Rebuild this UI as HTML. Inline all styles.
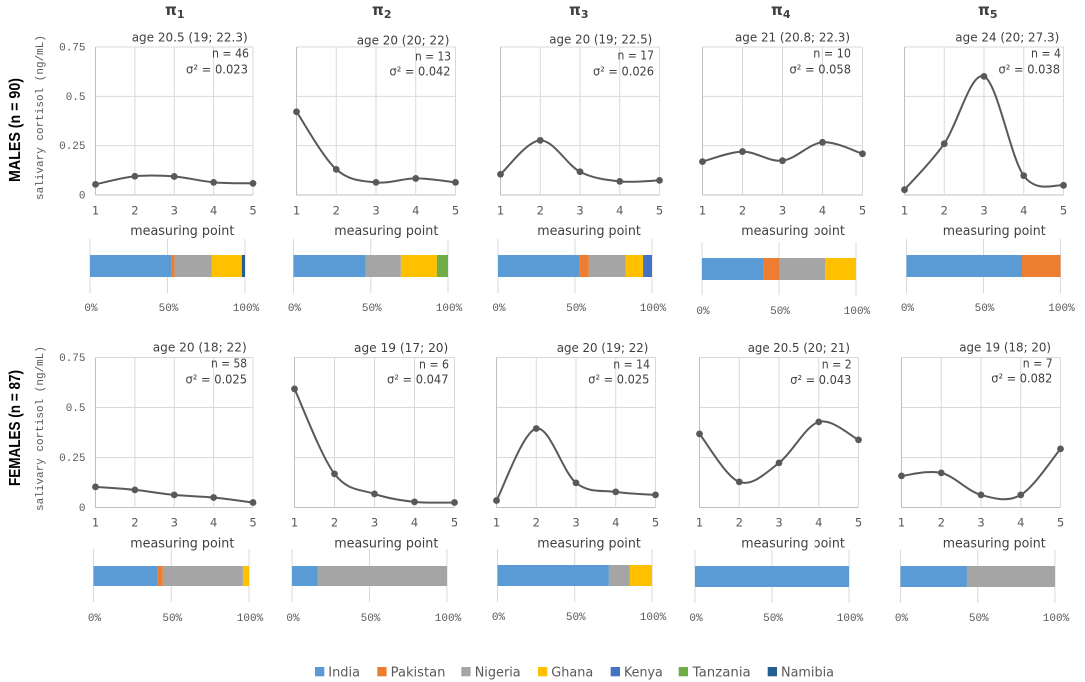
<!DOCTYPE html>
<html lang="en">
<head>
<meta charset="utf-8">
<title>Salivary cortisol by measuring point</title>
<style>
html,body{margin:0;padding:0;background:#fff;width:1085px;height:682px;overflow:hidden}
svg{display:block}
text{font-family:"DejaVu Sans","Liberation Sans",sans-serif;fill:#404040;font-size:13px}
.mono{font-family:"Liberation Mono",monospace;font-size:11px;fill:#595959}
.tick{font-size:11.5px;fill:#595959;text-anchor:middle}
.title{font-size:13px;fill:#404040}
.note{font-size:12.5px;fill:#404040}
.legend{font-size:13px;fill:#595959}
.pi{font-family:"DejaVu Sans",sans-serif;font-weight:bold;font-size:15px;fill:#404040}
.row{font-family:"Liberation Sans",sans-serif;font-weight:bold;font-size:16px;fill:#000}
</style>
</head>
<body>
<svg id="figure" xmlns="http://www.w3.org/2000/svg" width="1085" height="682" viewBox="0 0 1085 682">
<rect width="1085" height="682" fill="#fff"/>
<g id="marks"></g>

<g>
<text class="pi" x="165" y="15">π<tspan font-size="11" dy="3">1</tspan></text>
<text class="pi" x="372" y="15">π<tspan font-size="11" dy="3">2</tspan></text>
<text class="pi" x="569" y="15">π<tspan font-size="11" dy="3">3</tspan></text>
<text class="pi" x="771" y="15">π<tspan font-size="11" dy="3">4</tspan></text>
<text class="pi" x="978" y="15">π<tspan font-size="11" dy="3">5</tspan></text>
</g>

<text class="row" transform="translate(20,182) rotate(-90)" textLength="104" lengthAdjust="spacingAndGlyphs">MALES (n = 90)</text>
<text class="row" transform="translate(20,486) rotate(-90)" textLength="116" lengthAdjust="spacingAndGlyphs">FEMALES (n = 87)</text>
<text class="mono" transform="translate(43,200) rotate(-90)" textLength="165">salivary cortisol (ng/mL)</text>
<text class="mono" transform="translate(43,511) rotate(-90)" textLength="165">salivary cortisol (ng/mL)</text>

<g>
<text class="note" x="131.7" y="41.5" textLength="116" lengthAdjust="spacingAndGlyphs">age 20.5 (19; 22.3)</text>
<text class="note" x="212" y="57.5" textLength="37" lengthAdjust="spacingAndGlyphs">n = 46</text>
<text class="note" x="186" y="73.5" textLength="62" lengthAdjust="spacingAndGlyphs">σ² = 0.023</text>

<text class="note" x="356.7" y="44.5" textLength="92.7" lengthAdjust="spacingAndGlyphs">age 20 (20; 22)</text>
<text class="note" x="415" y="60.5" textLength="36" lengthAdjust="spacingAndGlyphs">n = 13</text>
<text class="note" x="389.5" y="75.5" textLength="61" lengthAdjust="spacingAndGlyphs">σ² = 0.042</text>

<text class="note" x="549.3" y="43.5" textLength="103" lengthAdjust="spacingAndGlyphs">age 20 (19; 22.5)</text>
<text class="note" x="617.5" y="59.5" textLength="36.5" lengthAdjust="spacingAndGlyphs">n = 17</text>
<text class="note" x="593" y="75.5" textLength="61" lengthAdjust="spacingAndGlyphs">σ² = 0.026</text>

<text class="note" x="735" y="41.5" textLength="115" lengthAdjust="spacingAndGlyphs">age 21 (20.8; 22.3)</text>
<text class="note" x="813.3" y="57.5" textLength="37.7" lengthAdjust="spacingAndGlyphs">n = 10</text>
<text class="note" x="789.5" y="73.5" textLength="61.5" lengthAdjust="spacingAndGlyphs">σ² = 0.058</text>

<text class="note" x="955.3" y="41.5" textLength="104" lengthAdjust="spacingAndGlyphs">age 24 (20; 27.3)</text>
<text class="note" x="1031" y="57.5" textLength="30" lengthAdjust="spacingAndGlyphs">n = 4</text>
<text class="note" x="998.5" y="73.5" textLength="61.5" lengthAdjust="spacingAndGlyphs">σ² = 0.038</text>

<text class="note" x="152.7" y="351.5" textLength="94" lengthAdjust="spacingAndGlyphs">age 20 (18; 22)</text>
<text class="note" x="211" y="367.5" textLength="36" lengthAdjust="spacingAndGlyphs">n = 58</text>
<text class="note" x="185.5" y="383.5" textLength="61.5" lengthAdjust="spacingAndGlyphs">σ² = 0.025</text>

<text class="note" x="354" y="352" textLength="94.3" lengthAdjust="spacingAndGlyphs">age 19 (17; 20)</text>
<text class="note" x="419" y="368.5" textLength="30" lengthAdjust="spacingAndGlyphs">n = 6</text>
<text class="note" x="387" y="383.5" textLength="61.5" lengthAdjust="spacingAndGlyphs">σ² = 0.047</text>

<text class="note" x="556.7" y="352" textLength="91.7" lengthAdjust="spacingAndGlyphs">age 20 (19; 22)</text>
<text class="note" x="613.3" y="368.5" textLength="36.7" lengthAdjust="spacingAndGlyphs">n = 14</text>
<text class="note" x="588.3" y="383.5" textLength="61" lengthAdjust="spacingAndGlyphs">σ² = 0.025</text>

<text class="note" x="747.7" y="352" textLength="102.3" lengthAdjust="spacingAndGlyphs">age 20.5 (20; 21)</text>
<text class="note" x="821.7" y="368.5" textLength="30" lengthAdjust="spacingAndGlyphs">n = 2</text>
<text class="note" x="790.3" y="384" textLength="61" lengthAdjust="spacingAndGlyphs">σ² = 0.043</text>

<text class="note" x="959.3" y="351.5" textLength="91.7" lengthAdjust="spacingAndGlyphs">age 19 (18; 20)</text>
<text class="note" x="1022.7" y="367.5" textLength="30" lengthAdjust="spacingAndGlyphs">n = 7</text>
<text class="note" x="991.3" y="382.5" textLength="61" lengthAdjust="spacingAndGlyphs">σ² = 0.082</text>
</g>

<g>
<text class="title" x="130.3" y="235" textLength="104" lengthAdjust="spacingAndGlyphs">measuring point</text>
<text class="title" x="334.3" y="235" textLength="104" lengthAdjust="spacingAndGlyphs">measuring point</text>
<text class="title" x="537.3" y="235" textLength="103.5" lengthAdjust="spacingAndGlyphs">measuring point</text>
<text class="title" x="741.3" y="235" textLength="103.5" lengthAdjust="spacingAndGlyphs">measuring point</text>
<text class="title" x="942.7" y="235" textLength="103" lengthAdjust="spacingAndGlyphs">measuring point</text>
<text class="title" x="130.3" y="547.5" textLength="104" lengthAdjust="spacingAndGlyphs">measuring point</text>
<text class="title" x="334.3" y="547.5" textLength="104" lengthAdjust="spacingAndGlyphs">measuring point</text>
<text class="title" x="537.3" y="547.5" textLength="103.5" lengthAdjust="spacingAndGlyphs">measuring point</text>
<text class="title" x="741.3" y="547.5" textLength="103.5" lengthAdjust="spacingAndGlyphs">measuring point</text>
<text class="title" x="942.7" y="547.5" textLength="103" lengthAdjust="spacingAndGlyphs">measuring point</text>
<rect x="813" y="224" width="1.8" height="15" fill="#fff"/>
<rect x="813" y="536" width="1.8" height="15" fill="#fff"/>
</g>

<g>
<g><rect x="315" y="667" width="9.3" height="9.3" fill="#5B9BD5"/><text class="legend" x="328.3" y="676.5" textLength="31.7" lengthAdjust="spacingAndGlyphs">India</text></g>
<g><rect x="377.3" y="667" width="9.3" height="9.3" fill="#ED7D31"/><text class="legend" x="390.7" y="676.5" textLength="54.7" lengthAdjust="spacingAndGlyphs">Pakistan</text></g>
<g><rect x="461.3" y="667" width="9.3" height="9.3" fill="#A5A5A5"/><text class="legend" x="474.7" y="676.5" textLength="46" lengthAdjust="spacingAndGlyphs">Nigeria</text></g>
<g><rect x="538" y="667" width="9.3" height="9.3" fill="#FFC000"/><text class="legend" x="551.3" y="676.5" textLength="42" lengthAdjust="spacingAndGlyphs">Ghana</text></g>
<g><rect x="610.7" y="667" width="9.3" height="9.3" fill="#4472C4"/><text class="legend" x="624" y="676.5" textLength="38.7" lengthAdjust="spacingAndGlyphs">Kenya</text></g>
<g><rect x="678.7" y="667" width="9.3" height="9.3" fill="#70AD47"/><text class="legend" x="692.7" y="676.5" textLength="58" lengthAdjust="spacingAndGlyphs">Tanzania</text></g>
<g><rect x="767.7" y="667" width="9.3" height="9.3" fill="#255E91"/><text class="legend" x="781" y="676.5" textLength="53" lengthAdjust="spacingAndGlyphs">Namibia</text></g>
</g>
</svg>

<script>
// ---- data ----
const measuringPoints = [1, 2, 3, 4, 5];
const yTickValues = [0, 0.25, 0.5, 0.75];
const yTickLabels = ['0', '0.25', '0.5', '0.75'];
const shareTickValues = [0, 50, 100];
const shareTickLabels = ['0%', '50%', '100%'];
const countries = ['India', 'Pakistan', 'Nigeria', 'Ghana', 'Kenya', 'Tanzania', 'Namibia'];

const cortisolM1 = [0.054, 0.095, 0.094, 0.064, 0.059];
const cortisolM2 = [0.422, 0.130, 0.064, 0.084, 0.064];
const cortisolM3 = [0.105, 0.277, 0.118, 0.069, 0.074];
const cortisolM4 = [0.169, 0.220, 0.174, 0.267, 0.209];
const cortisolM5 = [0.027, 0.260, 0.601, 0.098, 0.049];
const cortisolF1 = [0.103, 0.088, 0.063, 0.050, 0.025];
const cortisolF2 = [0.593, 0.168, 0.068, 0.028, 0.025];
const cortisolF3 = [0.035, 0.395, 0.123, 0.078, 0.063];
const cortisolF4 = [0.368, 0.128, 0.223, 0.428, 0.338];
const cortisolF5 = [0.158, 0.173, 0.063, 0.063, 0.293];

const sharesM1 = [52.3, 2.3, 24, 19.4, 0, 0, 2];
const sharesM2 = [46.8, 0, 22.7, 23.3, 0, 7.2, 0];
const sharesM3 = [53, 6, 24, 11.2, 5.8, 0, 0];
const sharesM4 = [40, 10.4, 29.5, 20.1, 0, 0, 0];
const sharesM5 = [75, 25, 0, 0, 0, 0, 0];
const sharesF1 = [41.2, 3.4, 51.5, 3.9, 0, 0, 0];
const sharesF2 = [16.7, 0, 83.3, 0, 0, 0, 0];
const sharesF3 = [72.1, 0, 13.6, 14.3, 0, 0, 0];
const sharesF4 = [100, 0, 0, 0, 0, 0, 0];
const sharesF5 = [43, 0, 57, 0, 0, 0, 0];

// ---- layout & style (not data) ----
const countryColors = ['#5B9BD5', '#ED7D31', '#A5A5A5', '#FFC000', '#4472C4', '#70AD47', '#255E91'];
const Y_MAX = 0.75;
const panels = [
  {id:'m1', series:cortisolM1, shares:sharesM1, l:95.5,  r:253,   t:47,  b:195, xl:214.5, sx0:90,    sx1:245,   st:255, sb:277, gt:239, gb:293, lb:311},
  {id:'m2', series:cortisolM2, shares:sharesM2, l:296.5, r:455.5, t:47,  b:195, xl:214.5, sx0:293.5, sx1:448,   st:255, sb:277, gt:239, gb:293, lb:311},
  {id:'m3', series:cortisolM3, shares:sharesM3, l:500.5, r:659.5, t:47,  b:195, xl:214.5, sx0:498,   sx1:652,   st:255, sb:277, gt:239, gb:293, lb:311},
  {id:'m4', series:cortisolM4, shares:sharesM4, l:702.5, r:862.5, t:47,  b:195, xl:214.5, sx0:702,   sx1:856,   st:258, sb:280, gt:242, gb:295, lb:314},
  {id:'m5', series:cortisolM5, shares:sharesM5, l:904.5, r:1063.5,t:47,  b:195, xl:214.5, sx0:906.5, sx1:1060.5,st:255, sb:277, gt:239, gb:293, lb:311},
  {id:'f1', series:cortisolF1, shares:sharesF1, l:95.5,  r:253,   t:357.5,b:507.5,xl:526.5,sx0:93.5, sx1:249,   st:566, sb:586, gt:549, gb:602, lb:621},
  {id:'f2', series:cortisolF2, shares:sharesF2, l:294.5, r:454.5, t:357.5,b:507.5,xl:526.5,sx0:292,  sx1:447,   st:566, sb:586, gt:549, gb:602, lb:621},
  {id:'f3', series:cortisolF3, shares:sharesF3, l:496.5, r:655.5, t:357.5,b:507.5,xl:526.5,sx0:497.5,sx1:652,   st:565, sb:586, gt:549, gb:602, lb:620},
  {id:'f4', series:cortisolF4, shares:sharesF4, l:699.5, r:858.5, t:357.5,b:507.5,xl:526.5,sx0:695,  sx1:849,   st:566, sb:587, gt:550, gb:603, lb:621},
  {id:'f5', series:cortisolF5, shares:sharesF5, l:901.5, r:1060.5,t:357.5,b:507.5,xl:526.5,sx0:900.5,sx1:1055,  st:566, sb:587, gt:550, gb:603, lb:621}
];

const NS = 'http://www.w3.org/2000/svg';
const root = document.getElementById('marks');

function make(tag, parent, attrs) {
  const node = document.createElementNS(NS, tag);
  for (const k in attrs) node.setAttribute(k, attrs[k]);
  parent.appendChild(node);
  return node;
}

// axis functions
function xScale(p, point) {
  const lo = measuringPoints[0], hi = measuringPoints[measuringPoints.length - 1];
  return p.l + (point - lo) / (hi - lo) * (p.r - p.l);
}
function yScale(p, v) {
  return p.b - v / Y_MAX * (p.b - p.t);
}
function shareScale(p, pct) {
  return p.sx0 + pct / 100 * (p.sx1 - p.sx0);
}

// Excel-style smoothed line: Catmull-Rom converted to cubic Beziers
function smoothPath(pts) {
  let d = 'M' + pts[0][0].toFixed(2) + ' ' + pts[0][1].toFixed(2);
  for (let i = 0; i < pts.length - 1; i++) {
    const p0 = pts[Math.max(i - 1, 0)], p1 = pts[i], p2 = pts[i + 1], p3 = pts[Math.min(i + 2, pts.length - 1)];
    const c1x = p1[0] + (p2[0] - p0[0]) / 6, c1y = p1[1] + (p2[1] - p0[1]) / 6;
    const c2x = p2[0] - (p3[0] - p1[0]) / 6, c2y = p2[1] - (p3[1] - p1[1]) / 6;
    d += 'C' + c1x.toFixed(2) + ' ' + c1y.toFixed(2) + ' ' + c2x.toFixed(2) + ' ' + c2y.toFixed(2) + ' ' + p2[0].toFixed(2) + ' ' + p2[1].toFixed(2);
  }
  return d;
}

panels.forEach(function (p) {
  let el;
  const group = make('g', root, {});
  
  

  // horizontal gridlines
  yTickValues.forEach(function (v) {
    const y = yScale(p, v);
    el = make('line', group, {x1: p.l, x2: p.r, y1: y, y2: y, stroke: v === 0 ? '#BFBFBF' : '#D9D9D9', 'stroke-width': 1});
    
    
  });

  // vertical gridlines and x tick labels
  measuringPoints.forEach(function (pt, i) {
    const x = xScale(p, pt);
    el = make('line', group, {x1: x, x2: x, y1: p.t, y2: p.b, stroke: i === 0 ? '#BFBFBF' : '#D9D9D9', 'stroke-width': 1});
    
    
    el = make('text', group, {x: x, y: p.xl, class: 'tick'});
    el.textContent = String(pt);
    
    
  });

  // y tick labels on the first column
  if (p.id === 'm1' || p.id === 'f1') {
    yTickValues.forEach(function (v, i) {
      el = make('text', group, {x: 85.5, y: yScale(p, v) + 3.5, class: 'mono', 'text-anchor': 'end'});
      el.textContent = yTickLabels[i];
      
      
    });
  }

  // cortisol line and markers
  const pts = p.series.map(function (v, i) { return [xScale(p, measuringPoints[i]), yScale(p, v)]; });
  el = make('path', group, {d: smoothPath(pts), fill: 'none', stroke: '#595959', 'stroke-width': 2, 'stroke-linecap': 'round'});
  
  
  pts.forEach(function (q) {
    el = make('circle', group, {cx: q[0], cy: q[1], r: 3.4, fill: '#595959'});
    
    
  });

  // stacked share bar: gridlines, labels, segments
  shareTickValues.forEach(function (t, i) {
    const x = shareScale(p, t);
    el = make('line', group, {x1: x, x2: x, y1: p.gt, y2: p.gb, stroke: '#D9D9D9', 'stroke-width': 1});
    
    
    el = make('text', group, {x: x + 1, y: p.lb, class: 'mono', 'text-anchor': 'middle'});
    el.textContent = shareTickLabels[i];
    
    
  });
  let cumulative = 0;
  p.shares.forEach(function (s, i) {
    if (s > 0) {
      const x0 = shareScale(p, cumulative), x1 = shareScale(p, cumulative + s);
      el = make('rect', group, {x: x0, y: p.st, width: x1 - x0, height: p.sb - p.st, fill: countryColors[i]});
      
      
    }
    cumulative += s;
  });
});
</script>
</body>
</html>
